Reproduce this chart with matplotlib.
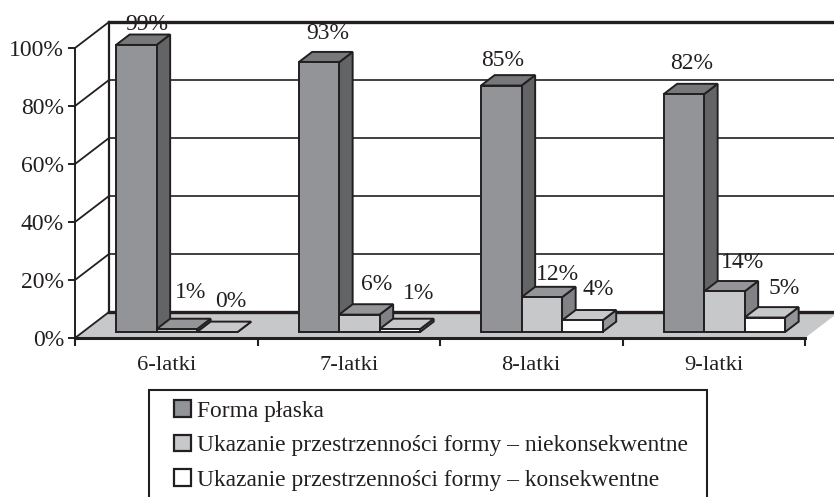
import matplotlib
matplotlib.use('Agg')
import matplotlib.pyplot as plt
from matplotlib.patches import Patch, Polygon, Rectangle

plt.rcParams['font.family'] = ['Liberation Serif', 'DejaVu Serif']

# Values
categories = ['6-latki', '7-latki', '8-latki', '9-latki']
series_names = ['Forma płaska',
                'Ukazanie przestrzenności formy – niekonsekwentne',
                'Ukazanie przestrzenności formy – konsekwentne']
forma_plaska = [99, 93, 85, 82]
niekonsekwentne = [1, 6, 12, 14]
konsekwentne = [0, 1, 4, 5]
y_ticks = [0, 20, 40, 60, 80, 100]

# Label nudges in pixels from the top-front centre of each bar
label_nudge = [[(10, 20), (9, 29), (1, 25), (8, 31)],
               [(14, 37), (17, 30), (16, 23), (18, 29)],
               [(13, 31), (19, 36), (16, 31), (19, 29)]]

# Colours per series: front, side, top
bar_colors = [('#929497', '#636466', '#77787b'),
              ('#c7c8ca', '#808285', '#939598'),
              ('#ffffff', '#939598', '#c7c8ca')]
INK = '#231f20'
FLOOR = '#c7c8ca'

# Fake 3D: depth d=0..1 shifts a point right and up
DEPTH_X = 34 / 182.5
DEPTH_Y = 26 / 2.9
BAR_D0 = 0.23
BAR_D1 = 0.63
BAR_START = 0.182
BAR_W = 0.222


def proj(x, y, d):
    return (x + d * DEPTH_X, y + d * DEPTH_Y)


W, H = 834, 497
fig = plt.figure(figsize=(W / 100, H / 100), dpi=100)
ax = fig.add_axes([75 / W, (H - 338) / H, 730 / W, 290 / H])
ax.set_xlim(0, len(categories))
ax.set_ylim(0, 100)
ax.patch.set_visible(False)


def poly(pts, fc, ec=INK, lw=1.4, z=3):
    ax.add_patch(Polygon(pts, closed=True, fc=fc, ec=ec, lw=lw, zorder=z,
                         clip_on=False, joinstyle='miter'))


# Walls and gridlines
n = len(categories)
poly([proj(0, 0, 0), proj(n, 0, 0), proj(n, 0, 1), proj(0, 0, 1)], FLOOR, ec='none', z=1)
for v in y_ticks[1:]:
    lw = 2.4 if v == 100 else 1.2
    bx, by = proj(0, v, 1)
    ax.plot([0, bx], [v, by], color=INK, lw=1.3, clip_on=False, zorder=2)
    ax.plot([bx, n + 0.3], [by, by], color=INK, lw=lw, clip_on=False, zorder=2)
bx, by = proj(0, 0, 1)
ax.plot([0, bx], [0, by], color=INK, lw=1.3, clip_on=False, zorder=2)
ax.plot([bx, n + 0.3], [by, by], color=INK, lw=2.4, clip_on=False, zorder=2)
ax.plot([bx, bx], [by, proj(0, 100, 1)[1]], color=INK, lw=1.6, clip_on=False, zorder=2)

# Bars, left to right so each front covers the neighbour's side
series = [forma_plaska, niekonsekwentne, konsekwentne]
z = 3
for g in range(n):
    for s, vals in enumerate(series):
        v = vals[g]
        x0 = g + BAR_START + s * BAR_W
        x1 = x0 + BAR_W
        front, side, top = bar_colors[s]
        poly([proj(x1, 0, BAR_D0), proj(x1, 0, BAR_D1), proj(x1, v, BAR_D1), proj(x1, v, BAR_D0)], side, z=z)
        poly([proj(x0, v, BAR_D0), proj(x1, v, BAR_D0), proj(x1, v, BAR_D1), proj(x0, v, BAR_D1)], top, z=z)
        poly([proj(x0, 0, BAR_D0), proj(x1, 0, BAR_D0), proj(x1, v, BAR_D0), proj(x0, v, BAR_D0)], front, z=z)
        z += 0.01
        nx, ny = label_nudge[s][g]
        ax.annotate(f'{v}%', proj((x0 + x1) / 2, v, BAR_D0), xytext=(nx * 0.72, ny * 0.72),
                    textcoords='offset points', ha='center', va='center',
                    fontsize=17, color=INK, zorder=20, annotation_clip=False)

# Axes
for side in ['top', 'right']:
    ax.spines[side].set_visible(False)
ax.spines['left'].set_color(INK)
ax.spines['left'].set_linewidth(1.4)
ax.spines['bottom'].set_color(INK)
ax.spines['bottom'].set_linewidth(2.2)
ax.spines['left'].set_zorder(15)
ax.spines['bottom'].set_zorder(15)
ax.set_yticks(y_ticks)
ax.set_yticklabels([f'{v}%' for v in y_ticks])
ax.set_xticks(range(n + 1))
ax.set_xticklabels([])
ax.set_xticks([i + 0.5 for i in range(n)], labels=categories, minor=True)
ax.tick_params(axis='y', length=5, width=1.4, color=INK, labelsize=17, labelcolor=INK, pad=3)
ax.tick_params(axis='x', which='major', length=6, width=1.5, color=INK)
ax.tick_params(axis='x', which='minor', length=0, labelsize=16.2, labelcolor=INK, pad=13)

# Legend box runs off the bottom of the picture, so no bottom line shows
fig.add_artist(Rectangle((149 / W, 1 - 505 / H), 558 / W, 115 / H, transform=fig.transFigure,
                         fc='white', ec=INK, lw=1.5))
handles = [Patch(fc=c[0], ec=INK, lw=1.6) for c in bar_colors]
leg = fig.legend(handles, series_names, loc='upper left', bbox_to_anchor=(167 / W, 1 - 393 / H),
                 bbox_transform=fig.transFigure, frameon=False, fontsize=16.95, labelcolor=INK,
                 handlelength=0.7, handleheight=0.7, handletextpad=0.27, labelspacing=0.555,
                 borderpad=0.3, borderaxespad=0)
leg.set_zorder(5)

fig.savefig('out.png', dpi=100)
